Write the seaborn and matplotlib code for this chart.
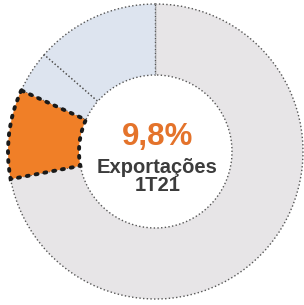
import matplotlib
matplotlib.use("Agg")
import matplotlib.pyplot as plt
import seaborn as sns

# donut data (share of total, %)
segments = ["Outros", "Exportações", "Seg. 3", "Seg. 4"]
shares = [72.0, 9.8, 4.6, 13.6]
colors = ["#e7e5e7", "#f07f27", "#dde4ef", "#dde4ef"]

headline = "9,8%"
label_1 = "Exportações"
label_2 = "1T21"

sns.set_style("white")
plt.rcParams["font.family"] = ["Liberation Sans", "DejaVu Sans"]

fig = plt.figure(figsize=(3.04, 3.05), dpi=100)
ax = fig.add_axes([0, 0, 1, 1])

wedges, _ = ax.pie(
    shares,
    colors=colors,
    radius=147.5,
    startangle=90,
    counterclock=False,
    wedgeprops=dict(width=71, edgecolor="#555555", linewidth=1.0, linestyle=":"),
)

# highlighted slice: thick black dotted border on top
hl = wedges[1]
hl.set_edgecolor("#1a1a1a")
hl.set_linewidth(2.8)
hl.set_linestyle((0, (0.5, 1.8)))
hl.set_capstyle("round")
hl.set_zorder(5)

ax.text(2, 15, headline, ha="center", va="center", fontsize=22.5,
        fontweight="bold", color="#e4732b")
ax.text(2, -16, label_1, ha="center", va="center", fontsize=14.5,
        fontweight="bold", color="#3c3c3c")
ax.text(2, -34, label_2, ha="center", va="center", fontsize=14.5,
        fontweight="bold", color="#3c3c3c")

ax.set_xlim(-155.5, 148.5)
ax.set_ylim(-153.5, 151.5)
ax.set_aspect("equal")
ax.axis("off")

fig.savefig("out.png", dpi=100, facecolor="white")
